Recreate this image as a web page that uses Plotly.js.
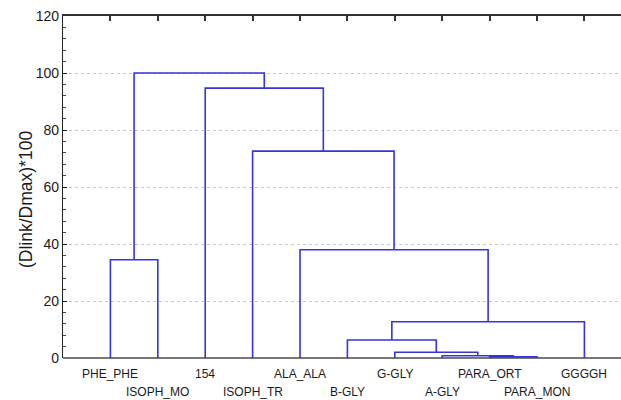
<!DOCTYPE html>
<html>
<head>
<meta charset="utf-8">
<script src="https://cdn.plot.ly/plotly-3.0.1.min.js"></script>
<style>html,body{margin:0;padding:0;background:#fff;}#chart{width:621px;height:400px;}</style>
</head>
<body>
<div id="chart"></div>
<script>
// Leaves in dendrogram order
var leaves = ['PHE_PHE','ISOPH_MO','154','ISOPH_TR','ALA_ALA','B-GLY','G-GLY','A-GLY','PARA_ORT','PARA_MON','GGGGH'];
// Merges: left cluster index, right cluster index (leaves 0..10, new clusters 11..)
var mergeLeft   = [8, 7, 6, 5, 14, 4, 3, 2, 0, 19];
var mergeRight  = [9, 11, 12, 13, 10, 15, 16, 17, 1, 18];
var mergeHeight = [0.4, 0.8, 2.0, 6.3, 12.7, 38.0, 72.6, 94.7, 34.5, 100];
var yTicks = [0, 20, 40, 60, 80, 100, 120];

// cluster positions derived from leaf positions
var posX = leaves.map(function(_, i){ return i + 1; });
var posH = leaves.map(function(){ return 0; });
var xs = [], ys = [];
for (var k = 0; k < mergeLeft.length; k++) {
  var a = mergeLeft[k], b = mergeRight[k], h = mergeHeight[k];
  xs.push(posX[a], posX[a], posX[b], posX[b], null);
  ys.push(posH[a], h, h, posH[b], null);
  posX.push((posX[a] + posX[b]) / 2);
  posH.push(h);
}

var lineColor = '#3535dd';
var traces = [
  {x: xs, y: ys, type: 'scatter', mode: 'lines', line: {color: lineColor, width: 1.6},
   hoverinfo: 'skip', cliponaxis: false, showlegend: false}
];

var W = 558, H = 342;
var fontFam = 'Liberation Sans, Arial, sans-serif';
var annotations = leaves.map(function(name, i){
  var row = i % 2;
  return {x: i + 1, xref: 'x', y: row === 0 ? (-16 / H) : (-34 / H), yref: 'paper',
          text: name, showarrow: false, xanchor: 'center', yanchor: 'middle',
          font: {family: fontFam, size: 12, color: '#1a1a1a'}};
});
annotations.push({x: (26 - 63) / W, xref: 'paper', y: (358 - 200) / H, yref: 'paper',
  text: '(Dlink/Dmax)*100', textangle: -90, showarrow: false, xanchor: 'center', yanchor: 'middle',
  font: {family: fontFam, size: 17.5, color: '#1a1a1a'}});

var xr = [0, W / 47.4];
var layout = {
  width: 621, height: 400,
  margin: {l: 63, r: 0, t: 16, b: 42},
  paper_bgcolor: '#fff', plot_bgcolor: '#fff',
  showlegend: false,
  xaxis: {range: xr, side: 'top', showgrid: false, zeroline: false,
          tickmode: 'array', tickvals: posX.slice(0, leaves.length), showticklabels: false,
          ticks: 'inside', ticklen: 5, tickcolor: 'rgb(50,50,50)', tickwidth: 2,
          showline: true, linecolor: 'rgb(50,50,50)', linewidth: 2.5},
  yaxis: {range: [0, 120], tickmode: 'array', tickvals: yTicks, ticktext: yTicks.map(String),
          showgrid: true, gridcolor: '#c8c8c8', griddash: 'dot', gridwidth: 1,
          zeroline: true, zerolinecolor: '#777', zerolinewidth: 1.5,
          showline: true, linecolor: '#222', linewidth: 1.2,
          ticks: 'inside', ticklen: 4, tickcolor: '#222',
          minor: {dtick: 4, ticks: 'inside', ticklen: 3, tickcolor: '#444', showgrid: false},
          tickfont: {family: fontFam, size: 14, color: '#1a1a1a'}},
  annotations: annotations
};
Plotly.newPlot('chart', traces, layout, {displayModeBar: false, staticPlot: true});
</script>
</body>
</html>
